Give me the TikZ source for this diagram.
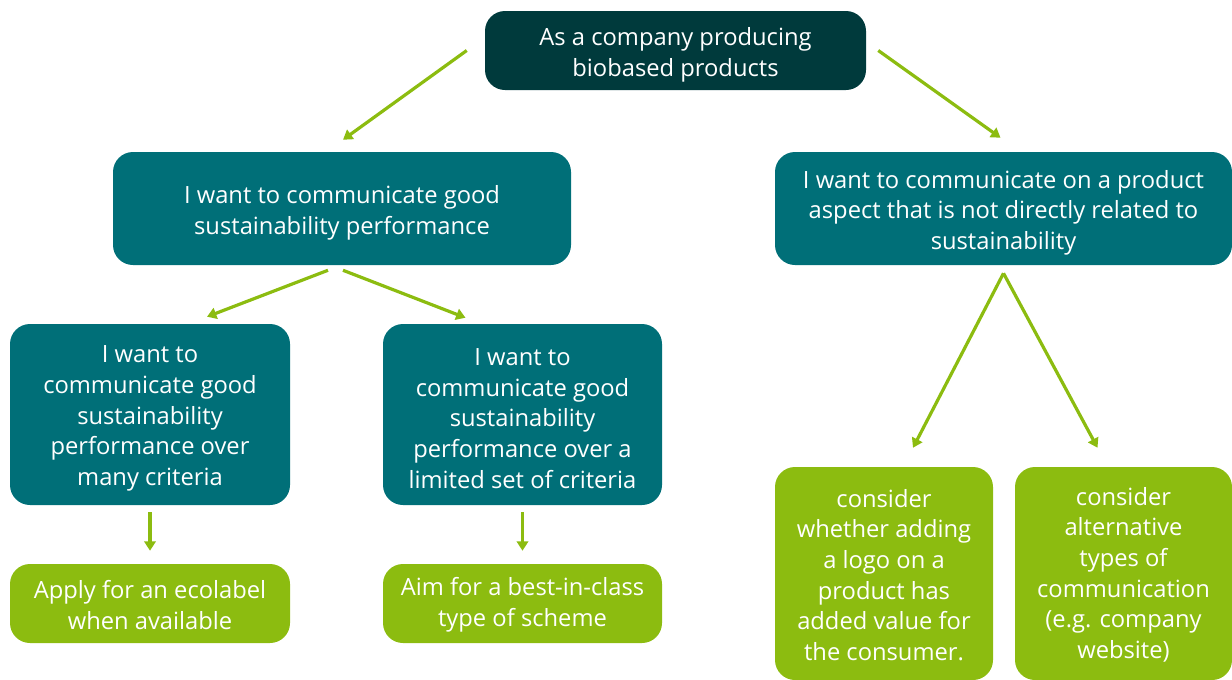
\documentclass[tikz,border=0pt]{standalone}
\usepackage{fontspec}
\setmainfont{Open Sans}
\usetikzlibrary{arrows.meta,calc}
\definecolor{darkteal}{HTML}{003A3C}
\definecolor{teal}{HTML}{006F78}
\definecolor{leaf}{HTML}{8CBC10}
\begin{document}
\begin{tikzpicture}[x=0.75pt,y=-0.75pt,
  box/.style={rounded corners=15pt,inner sep=0pt},
  words/.style={text=white,align=center,inner sep=0pt,
    font=\fontsize{17.8pt}{23pt}\selectfont},
  topbox/.style={box,fill=darkteal},
  qbox/.style={box,fill=teal},
  abox/.style={box,fill=leaf},
  qtext/.style={label={[words,yshift=-3pt]center:#1}},
  atext/.style={label={[words,yshift=-1pt]center:#1}},
  arr/.style={draw=leaf,line width=2.4pt,-{Triangle[length=7pt,width=8.5pt]}}]
\path[use as bounding box] (0,0) rectangle (1232,679);

% question boxes
\node[topbox,minimum width=285.75pt,minimum height=59.25pt,
  qtext={As a company producing\\biobased products}] (top) at (675.5,50.5) {};
\node[qbox,minimum width=343.5pt,minimum height=84.75pt,
  qtext={I want to communicate good\\sustainability performance}] (good) at (342,208.5) {};
\node[qbox,minimum width=342.75pt,minimum height=84.75pt,
  qtext={I want to communicate on a product\\aspect that is not directly related to\\sustainability}] (other) at (1003.5,208.5) {};
\node[qbox,minimum width=210pt,minimum height=135.75pt,
  qtext={I want to\\communicate good\\sustainability\\performance over\\many criteria}] (many) at (150,414.5) {};
\node[qbox,minimum width=209.25pt,minimum height=135.75pt,
  qtext={I want to\\communicate good\\sustainability\\performance over a\\limited set of criteria}] (few) at (522.5,414.5) {};

% advice boxes
\node[abox,minimum width=210pt,minimum height=59.25pt,
  atext={Apply for an ecolabel\\when available}] (eco) at (150,603.5) {};
\node[abox,minimum width=209.25pt,minimum height=59.25pt,
  atext={Aim for a best-in-class\\type of scheme}] (best) at (522.5,603.5) {};
\node[abox,minimum width=163.5pt,minimum height=159.75pt,
  atext={consider\\whether adding\\a logo on a\\product has\\added value for\\the consumer.}] (logo) at (884,573.5) {};
\node[abox,minimum width=162.75pt,minimum height=159.75pt,
  atext={consider\\alternative\\types of\\communication\\(e.g. company\\website)}] (alt) at (1123.5,573.5) {};

% connectors
\draw[arr] ($(top.west)+(-18,0)$) -- ($(good.north)+(1,-12)$);
\draw[arr] ($(top.east)+(12,0)$) -- ($(other.north)+(-3,-14)$);
\draw[arr] ($(good.south)+(-14,5)$) -- ($(many.north)+(57,-7)$);
\draw[arr] ($(good.south)+(1,5)$) -- ($(few.north)+(-57,-6)$);
\draw[arr] ($(many.south)+(0,7)$) -- ($(eco.north)+(0,-13)$);
\draw[arr] ($(few.south)+(0,7)$) -- ($(best.north)+(0,-13)$);
\draw[arr] ($(other.south)+(0,8)$) -- ($(logo.north)+(29,-19)$);
\draw[arr] ($(other.south)+(0,8)$) -- ($(alt.north)+(-26,-19)$);
\end{tikzpicture}
\end{document}
